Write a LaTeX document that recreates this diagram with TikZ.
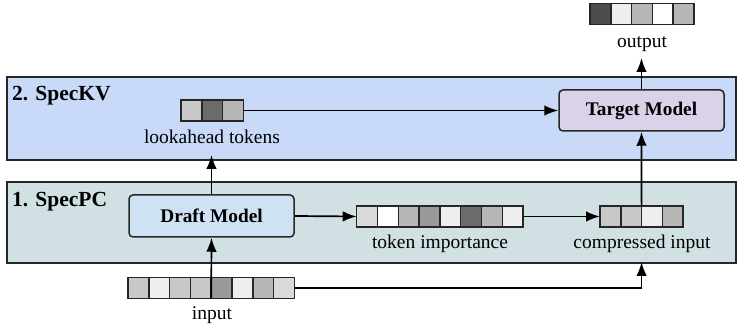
\documentclass[tikz,border=0pt]{standalone}
\usepackage{fontspec}
\setmainfont{Liberation Serif}
\usetikzlibrary{arrows.meta}
\definecolor{kvfill}{HTML}{C9DAF8}
\definecolor{pcfill}{HTML}{D0E0E3}
\definecolor{tgtfill}{HTML}{D9D2E9}
\definecolor{dftfill}{HTML}{CFE2F3}
\definecolor{gA}{HTML}{C8C8C8}
\definecolor{gB}{HTML}{EEEEEE}
\definecolor{gC}{HTML}{B7B7B7}
\definecolor{gD}{HTML}{999999}
\definecolor{gE}{HTML}{6C6C6C}
\definecolor{gF}{HTML}{D9D9D9}
\definecolor{gG}{HTML}{4D4D4D}
\newcommand\tokrow[4]{%
  \foreach \cc [count=\ii] in {#4} {%
    \node[cell, fill=\cc] (#1\ii) at ({#2+(\ii-0.5)*20.8}, #3) {};
  }%
}
\begin{document}
\begin{tikzpicture}[x=1pt, y=-1pt,
  panel/.style={draw=black!85, line width=1.5pt},
  cell/.style={draw=black!85, line width=1.5pt, minimum width=20.8pt, minimum height=21pt, inner sep=0pt, outer sep=0pt},
  model/.style={draw=black!85, line width=1.5pt, rounded corners=4pt, minimum width=165pt, minimum height=41pt, font=\fontsize{19.3}{22}\selectfont\bfseries, inner sep=0pt},
  lbl/.style={font=\fontsize{19.5}{22}\selectfont, anchor=base, inner sep=0pt},
  hdr/.style={font=\fontsize{21.5}{24}\selectfont\bfseries, anchor=base west, inner sep=0pt},
  conn/.style={line width=1.7pt, -{Latex[length=14pt, width=10.5pt]}},
  plain/.style={line width=1.7pt}]
\useasboundingbox (0,0) rectangle (737,328);
% panels
\path[panel, fill=kvfill] (7,77) rectangle (736,160);
\path[panel, fill=pcfill] (7,182) rectangle (736,263);
\node[hdr] (hkv) at (12,101) {2. SpecKV};
\node[hdr] (hpc) at (12,207) {1. SpecPC};
% models
\node[model, fill=tgtfill] (target) at (641.5,110.5) {Target Model};
\node[model, fill=dftfill, minimum height=42pt] (draft) at (211.5,216) {Draft Model};
% token rows
\tokrow{la}{181}{110.5}{gA,gE,gC}
\tokrow{out}{590}{14}{gG,gB,gC,white,gC}
\tokrow{ti}{356.7}{216.5}{gF,white,gC,gD,gB,gE,gC,gB}
\tokrow{cp}{600}{216.5}{gA,gA,gB,gC}
\tokrow{in}{128}{288}{gA,gB,gA,gA,gD,gB,gC,gF}
% labels
\node[lbl] (lalbl) at (212,144) {lookahead tokens};
\node[lbl] (outlbl) at (642,48) {output};
\node[lbl] (tilbl) at (440,249) {token importance};
\node[lbl] (cplbl) at (642,249) {compressed input};
\node[lbl] (inlbl) at (212,320) {input};
% arrow tips
\coordinate (outtip) at (target.north |- 0,58);
\coordinate (latip) at (draft.north |- 0,155);
\coordinate (cptip) at (cp2.south east |- 0,262);
\coordinate (bend) at (cp2.south east |- in8.east);
% connectors
\draw[conn] (la3.east) -- (target.west);
\draw[conn] (target.north) -- (outtip);
\draw[conn] (cp2.north east) -- (target.south);
\draw[conn] (draft.north) -- (latip);
\draw[conn] (draft.east) -- (ti1.west);
\draw[conn] (ti8.east) -- (cp1.west);
\draw[conn] (in4.south east) -- (draft.south);
\draw[plain] (in8.east) -- (bend);
\draw[conn] (bend) -- (cptip);
\end{tikzpicture}
\end{document}
